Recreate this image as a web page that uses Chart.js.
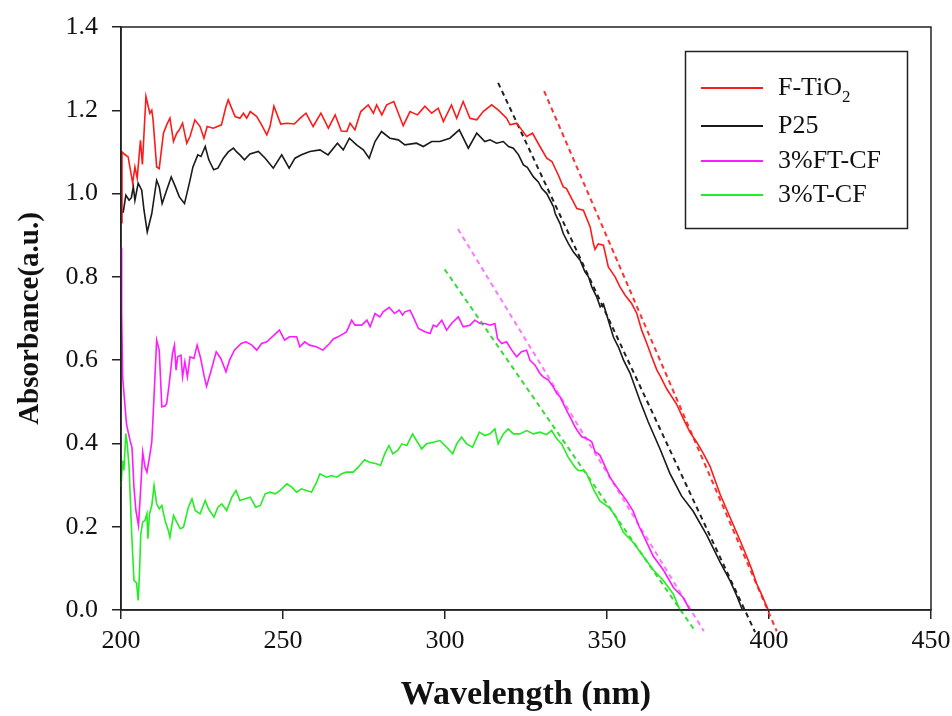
<!DOCTYPE html>
<html>
<head>
<meta charset="utf-8">
<script src="https://cdn.jsdelivr.net/npm/chart.js@4.4.1/dist/chart.umd.min.js"></script>
<style>
  html, body { margin: 0; padding: 0; background: #fff; }
</style>
</head>
<body>
<canvas id="uvChart" width="952" height="716"></canvas>
<script>
// DATA (wavelength in nm, absorbance in a.u.)
const ftioWl = [200.0, 200.3, 201.0, 202.2, 203.6, 204.3, 205.0, 206.0, 206.6, 207.7, 208.9, 209.5, 209.9, 211.0, 211.8, 213.1, 214.1, 215.1, 216.2, 217.2, 218.0, 219.0, 220.3, 221.3, 222.8, 224.4, 225.6, 226.6, 228.5, 231.0, 232.4, 233.1, 235.2, 236.7, 237.8, 238.8, 239.9, 241.9, 243.4, 245.0, 246.0, 247.2, 249.3, 251.2, 253.5, 255.3, 257.1, 259.3, 261.7, 264.0, 266.1, 268.0, 269.7, 270.7, 272.2, 274.0, 276.3, 277.9, 278.9, 280.5, 282.0, 284.2, 287.1, 289.2, 291.5, 293.8, 295.9, 297.9, 299.5, 302.0, 303.6, 305.6, 307.7, 309.8, 311.8, 314.4, 316.4, 319.0, 320.1, 322.1, 323.7, 325.2, 327.0, 329.3, 331.4, 333.0, 335.0, 336.5, 337.5, 339.1, 340.7, 342.7, 344.8, 345.8, 346.3, 347.3, 348.9, 350.4, 352.5, 354.0, 355.6, 357.6, 359.2, 360.7, 362.3, 363.8, 365.4, 366.4, 368.5, 371.5, 373.5, 375.6, 377.7, 379.8, 381.8, 384.9, 387.0, 389.0, 391.0, 393.1, 394.7, 396.2, 398.0, 399.8];
const ftioAbs = [0.93, 1.10, 1.095, 1.088, 1.025, 1.064, 1.037, 1.128, 1.07, 1.233, 1.193, 1.20, 1.177, 1.064, 1.06, 1.145, 1.165, 1.181, 1.125, 1.145, 1.153, 1.169, 1.121, 1.137, 1.177, 1.161, 1.133, 1.161, 1.157, 1.165, 1.209, 1.225, 1.185, 1.181, 1.193, 1.181, 1.197, 1.185, 1.165, 1.141, 1.161, 1.21, 1.167, 1.169, 1.167, 1.181, 1.193, 1.161, 1.193, 1.157, 1.189, 1.15, 1.149, 1.169, 1.153, 1.197, 1.213, 1.193, 1.213, 1.189, 1.213, 1.221, 1.163, 1.197, 1.189, 1.21, 1.193, 1.205, 1.173, 1.213, 1.181, 1.221, 1.181, 1.177, 1.197, 1.213, 1.201, 1.181, 1.165, 1.169, 1.153, 1.137, 1.145, 1.113, 1.085, 1.077, 1.044, 1.016, 1.012, 0.988, 0.964, 0.96, 0.92, 0.88, 0.866, 0.879, 0.876, 0.824, 0.80, 0.776, 0.756, 0.736, 0.712, 0.672, 0.64, 0.608, 0.576, 0.562, 0.53, 0.494, 0.46, 0.427, 0.403, 0.375, 0.345, 0.278, 0.24, 0.204, 0.168, 0.129, 0.097, 0.063, 0.032, 0.0];

const p25Wl = [200.0, 200.7, 201.5, 202.5, 203.2, 203.8, 204.3, 205.3, 206.4, 207.1, 208.1, 209.5, 211.0, 211.8, 212.7, 213.9, 215.5, 216.8, 218.0, 219.6, 221.1, 222.2, 223.7, 224.7, 226.0, 227.1, 228.6, 229.9, 231.6, 233.1, 234.7, 235.7, 236.7, 238.1, 239.8, 242.4, 244.5, 247.0, 249.6, 251.9, 253.7, 255.7, 258.3, 261.4, 263.9, 266.8, 268.6, 270.5, 272.7, 274.8, 276.6, 278.4, 280.4, 283.0, 285.6, 287.6, 291.2, 293.3, 295.9, 298.4, 301.5, 304.4, 307.2, 309.8, 312.3, 313.9, 315.9, 318.0, 319.6, 321.1, 322.7, 324.2, 325.4, 327.3, 328.8, 329.9, 331.4, 333.5, 334.0, 335.5, 336.5, 338.1, 339.6, 341.7, 343.2, 344.3, 345.3, 346.8, 347.9, 348.9, 350.4, 352.0, 353.5, 355.1, 357.1, 360.2, 362.7, 366.4, 369.4, 373.0, 376.6, 380.8, 384.9, 388.0, 390.0, 391.8];
const p25Abs = [0.956, 0.956, 0.996, 0.984, 0.99, 1.016, 0.984, 1.025, 1.008, 0.96, 0.908, 0.952, 1.032, 1.016, 0.976, 1.004, 1.04, 1.016, 0.992, 0.976, 1.025, 1.064, 1.093, 1.089, 1.113, 1.081, 1.057, 1.061, 1.085, 1.10, 1.109, 1.10, 1.093, 1.081, 1.095, 1.101, 1.085, 1.061, 1.093, 1.061, 1.085, 1.093, 1.101, 1.105, 1.093, 1.121, 1.105, 1.133, 1.117, 1.105, 1.085, 1.125, 1.149, 1.133, 1.129, 1.117, 1.121, 1.113, 1.125, 1.125, 1.133, 1.153, 1.109, 1.145, 1.125, 1.129, 1.121, 1.125, 1.113, 1.109, 1.093, 1.069, 1.063, 1.04, 1.028, 1.012, 1.0, 0.968, 0.952, 0.928, 0.904, 0.88, 0.86, 0.84, 0.812, 0.80, 0.776, 0.752, 0.728, 0.735, 0.696, 0.655, 0.632, 0.60, 0.569, 0.502, 0.452, 0.386, 0.328, 0.274, 0.237, 0.18, 0.115, 0.07, 0.035, 0.0];

const ftcfWl = [200.0, 200.2, 200.5, 201.7, 202.8, 203.4, 204.0, 204.6, 205.4, 206.1, 206.7, 207.4, 208.0, 208.8, 209.5, 210.0, 211.0, 211.8, 212.6, 213.6, 214.1, 214.9, 215.9, 216.5, 217.0, 217.5, 218.5, 219.0, 219.7, 220.5, 221.3, 222.5, 223.5, 224.6, 225.6, 226.4, 227.7, 229.4, 230.8, 232.4, 233.5, 235.0, 237.1, 238.6, 240.4, 241.9, 243.4, 245.0, 248.9, 250.5, 252.0, 254.2, 255.2, 256.7, 258.2, 260.3, 262.3, 264.4, 265.5, 267.0, 269.6, 271.2, 272.2, 274.3, 275.9, 276.9, 278.4, 279.9, 280.9, 282.8, 284.4, 285.9, 286.9, 287.6, 289.2, 290.2, 291.8, 293.8, 295.4, 296.4, 297.4, 299.0, 300.5, 302.0, 304.1, 305.6, 307.7, 309.2, 310.8, 312.3, 313.9, 315.4, 316.2, 317.5, 319.0, 320.6, 322.1, 323.6, 325.2, 326.2, 327.8, 329.3, 330.3, 331.9, 333.4, 334.5, 335.5, 337.0, 338.0, 339.1, 340.1, 341.1, 342.2, 343.7, 345.3, 346.3, 347.8, 350.9, 353.0, 356.1, 358.1, 359.7, 362.3, 364.3, 367.4, 370.5, 373.5, 375.6];
const ftcfAbs = [0.87, 0.72, 0.56, 0.446, 0.407, 0.39, 0.295, 0.239, 0.203, 0.295, 0.379, 0.343, 0.331, 0.367, 0.403, 0.48, 0.648, 0.624, 0.488, 0.49, 0.496, 0.544, 0.616, 0.636, 0.576, 0.608, 0.612, 0.56, 0.596, 0.56, 0.608, 0.604, 0.636, 0.604, 0.564, 0.537, 0.572, 0.62, 0.604, 0.572, 0.60, 0.624, 0.64, 0.644, 0.636, 0.624, 0.64, 0.644, 0.672, 0.648, 0.656, 0.656, 0.632, 0.644, 0.636, 0.632, 0.624, 0.64, 0.651, 0.656, 0.668, 0.696, 0.684, 0.684, 0.696, 0.68, 0.712, 0.704, 0.716, 0.727, 0.712, 0.72, 0.708, 0.716, 0.72, 0.704, 0.676, 0.668, 0.664, 0.684, 0.68, 0.696, 0.672, 0.688, 0.704, 0.68, 0.684, 0.696, 0.688, 0.688, 0.684, 0.688, 0.652, 0.64, 0.644, 0.624, 0.608, 0.62, 0.624, 0.60, 0.588, 0.568, 0.56, 0.552, 0.536, 0.52, 0.512, 0.488, 0.472, 0.456, 0.44, 0.428, 0.416, 0.412, 0.404, 0.38, 0.372, 0.319, 0.295, 0.262, 0.237, 0.204, 0.162, 0.129, 0.096, 0.054, 0.03, 0.0];

const tcfWl = [200.0, 200.5, 200.9, 201.5, 201.9, 202.5, 203.3, 204.0, 204.8, 205.3, 205.7, 206.1, 206.7, 207.4, 208.0, 208.3, 208.8, 209.5, 210.2, 211.0, 211.8, 212.6, 213.6, 214.6, 215.1, 216.2, 217.2, 218.3, 219.3, 220.8, 221.9, 222.9, 224.4, 226.0, 227.0, 228.7, 229.9, 231.1, 232.6, 234.2, 235.5, 236.7, 238.3, 239.9, 241.6, 243.0, 244.5, 246.0, 247.6, 249.1, 251.2, 252.7, 254.2, 255.7, 257.2, 258.8, 260.4, 261.4, 263.4, 265.0, 266.6, 268.1, 269.6, 271.7, 273.2, 275.2, 276.7, 278.8, 280.1, 281.4, 282.7, 283.9, 285.4, 286.7, 288.2, 290.0, 291.2, 292.8, 294.3, 296.4, 298.4, 300.0, 302.4, 303.6, 305.1, 306.7, 308.5, 310.6, 312.3, 313.9, 315.4, 316.4, 318.0, 319.5, 321.1, 323.1, 325.2, 327.3, 329.3, 331.3, 332.9, 334.5, 336.0, 337.0, 338.0, 339.1, 340.1, 341.1, 342.7, 343.7, 345.8, 347.8, 350.9, 353.0, 355.0, 358.1, 361.2, 364.3, 367.4, 370.5, 372.5];
const tcfAbs = [0.295, 0.359, 0.335, 0.424, 0.40, 0.343, 0.183, 0.071, 0.065, 0.023, 0.087, 0.183, 0.211, 0.215, 0.231, 0.171, 0.231, 0.251, 0.299, 0.255, 0.243, 0.251, 0.215, 0.191, 0.175, 0.227, 0.211, 0.195, 0.199, 0.247, 0.267, 0.239, 0.231, 0.263, 0.243, 0.223, 0.247, 0.255, 0.239, 0.271, 0.287, 0.263, 0.267, 0.271, 0.247, 0.251, 0.279, 0.283, 0.279, 0.287, 0.303, 0.295, 0.283, 0.291, 0.287, 0.283, 0.307, 0.327, 0.319, 0.323, 0.319, 0.327, 0.331, 0.331, 0.343, 0.361, 0.355, 0.351, 0.347, 0.375, 0.395, 0.375, 0.383, 0.399, 0.395, 0.423, 0.407, 0.387, 0.399, 0.403, 0.407, 0.395, 0.375, 0.399, 0.415, 0.399, 0.391, 0.427, 0.419, 0.423, 0.435, 0.399, 0.423, 0.435, 0.423, 0.423, 0.431, 0.423, 0.427, 0.421, 0.431, 0.411, 0.399, 0.383, 0.367, 0.355, 0.343, 0.335, 0.335, 0.328, 0.29, 0.262, 0.245, 0.22, 0.187, 0.162, 0.129, 0.096, 0.071, 0.038, 0.0];

// tangent (band-gap extrapolation) lines: two end points each
const ftioFitWl = [330.6, 402.4], ftioFitAbs = [1.246, -0.051];
const p25FitWl = [316.4, 395.7], p25FitAbs = [1.266, -0.053];
const ftcfFitWl = [304.0, 379.9], ftcfFitAbs = [0.915, -0.051];
const tcfFitWl = [299.9, 377.4], tcfFitAbs = [0.818, -0.053];

const seriesLabels = ["F-TiO2", "P25", "3%FT-CF", "3%T-CF"];
const seriesColors = ["#ff1a1a", "#1a1a1a", "#ff1aff", "#22ee22"];
const fitColors = ["#ff3030", "#222222", "#ff77ff", "#33dd33"];

const xTicksMin = 200, xTicksMax = 450, xStep = 50;
const yTicksMin = 0, yTicksMax = 1.4, yStep = 0.2;

function pairs(xs, ys) {
    return xs.map(function (x, i) { return { x: x, y: ys[i] }; });
}

const serif = "'Liberation Serif', 'Times New Roman', serif";

// frame around the plot (top + right sides)
const framePlugin = {
    id: "frame",
    afterDatasetsDraw: function (chart) {
        const a = chart.chartArea, ctx = chart.ctx;
        ctx.save();
        ctx.strokeStyle = "#222";
        ctx.lineWidth = 1.5;
        ctx.strokeRect(a.left, a.top, a.right - a.left, a.bottom - a.top);
        ctx.restore();
    }
};

// boxed legend with subscript for TiO2
const legendPlugin = {
    id: "boxLegend",
    afterDraw: function (chart) {
        const ctx = chart.ctx;
        const bx = 685, by = 51, bw = 222, bh = 177;
        const rows = [88, 126, 161, 195];
        ctx.save();
        ctx.strokeStyle = "#222";
        ctx.lineWidth = 1.5;
        ctx.strokeRect(bx + 0.5, by + 0.5, bw, bh);
        ctx.textBaseline = "middle";
        ctx.textAlign = "left";
        for (let i = 0; i < 4; i++) {
            const ds = chart.data.datasets[i];
            ctx.strokeStyle = ds.borderColor;
            ctx.lineWidth = 2;
            ctx.beginPath();
            ctx.moveTo(bx + 16, rows[i]);
            ctx.lineTo(bx + 78, rows[i]);
            ctx.stroke();
            ctx.fillStyle = "#111";
            ctx.font = "26px " + serif;
            if (i === 0) {
                const t = "F-TiO";
                ctx.fillText(t, bx + 93, rows[i]);
                const w = ctx.measureText(t).width;
                ctx.font = "17px " + serif;
                ctx.fillText("2", bx + 93 + w, rows[i] + 10);
            } else {
                ctx.fillText(ds.label, bx + 93, rows[i]);
            }
        }
        ctx.restore();
    }
};

document.addEventListener("DOMContentLoaded", function () {
    const solid = [
        pairs(ftioWl, ftioAbs), pairs(p25Wl, p25Abs),
        pairs(ftcfWl, ftcfAbs), pairs(tcfWl, tcfAbs)
    ];
    const fits = [
        pairs(ftioFitWl, ftioFitAbs), pairs(p25FitWl, p25FitAbs),
        pairs(ftcfFitWl, ftcfFitAbs), pairs(tcfFitWl, tcfFitAbs)
    ];
    const datasets = [];
    for (let i = 0; i < 4; i++) {
        datasets.push({
            label: seriesLabels[i],
            data: solid[i],
            borderColor: seriesColors[i],
            borderWidth: 1.6,
            pointRadius: 0,
            tension: 0,
            clip: 2
        });
    }
    for (let i = 0; i < 4; i++) {
        datasets.push({
            label: seriesLabels[i] + " fit",
            data: fits[i],
            borderColor: fitColors[i],
            borderWidth: 2,
            borderDash: [5, 4],
            pointRadius: 0,
            tension: 0,
            clip: false
        });
    }

    const ctx = document.getElementById("uvChart").getContext("2d");
    new Chart(ctx, {
        type: "line",
        data: { datasets: datasets },
        plugins: [framePlugin, legendPlugin],
        options: {
            responsive: false,
            animation: false,
            layout: { padding: { top: 27, right: 21, left: 0, bottom: 0 } },
            plugins: { legend: { display: false }, tooltip: { enabled: false } },
            scales: {
                x: {
                    type: "linear",
                    min: xTicksMin,
                    max: xTicksMax,
                    ticks: {
                        stepSize: xStep,
                        color: "#111",
                        padding: 7,
                        maxRotation: 0,
                        font: { family: serif, size: 26 }
                    },
                    grid: { drawOnChartArea: false, drawTicks: true, tickLength: 9, color: "#222", lineWidth: 1.5 },
                    border: { display: true, color: "#222", width: 1.5 },
                    title: {
                        display: true,
                        text: "Wavelength (nm)",
                        color: "#111",
                        font: { family: serif, size: 34, weight: "bold" },
                        padding: { top: 0, bottom: 0 }
                    },
                    afterFit: function (scale) {
                        scale.height = 106;
                        scale.paddingLeft = 0;
                        scale.paddingRight = 0;
                    }
                },
                y: {
                    min: yTicksMin,
                    max: yTicksMax,
                    ticks: {
                        stepSize: yStep,
                        color: "#111",
                        padding: 14,
                        font: { family: serif, size: 26 },
                        callback: function (v) { return Number(v).toFixed(1); }
                    },
                    grid: { drawOnChartArea: false, drawTicks: true, tickLength: 9, color: "#222", lineWidth: 1.5 },
                    border: { display: true, color: "#222", width: 1.5 },
                    title: {
                        display: true,
                        text: "Absorbance(a.u.)",
                        color: "#111",
                        font: { family: serif, size: 29, weight: "bold" },
                        padding: { top: 13, bottom: 0 }
                    },
                    afterFit: function (scale) {
                        scale.width = 121;
                        scale.paddingTop = 0;
                        scale.paddingBottom = 0;
                    }
                }
            }
        }
    });
});
</script>
</body>
</html>
